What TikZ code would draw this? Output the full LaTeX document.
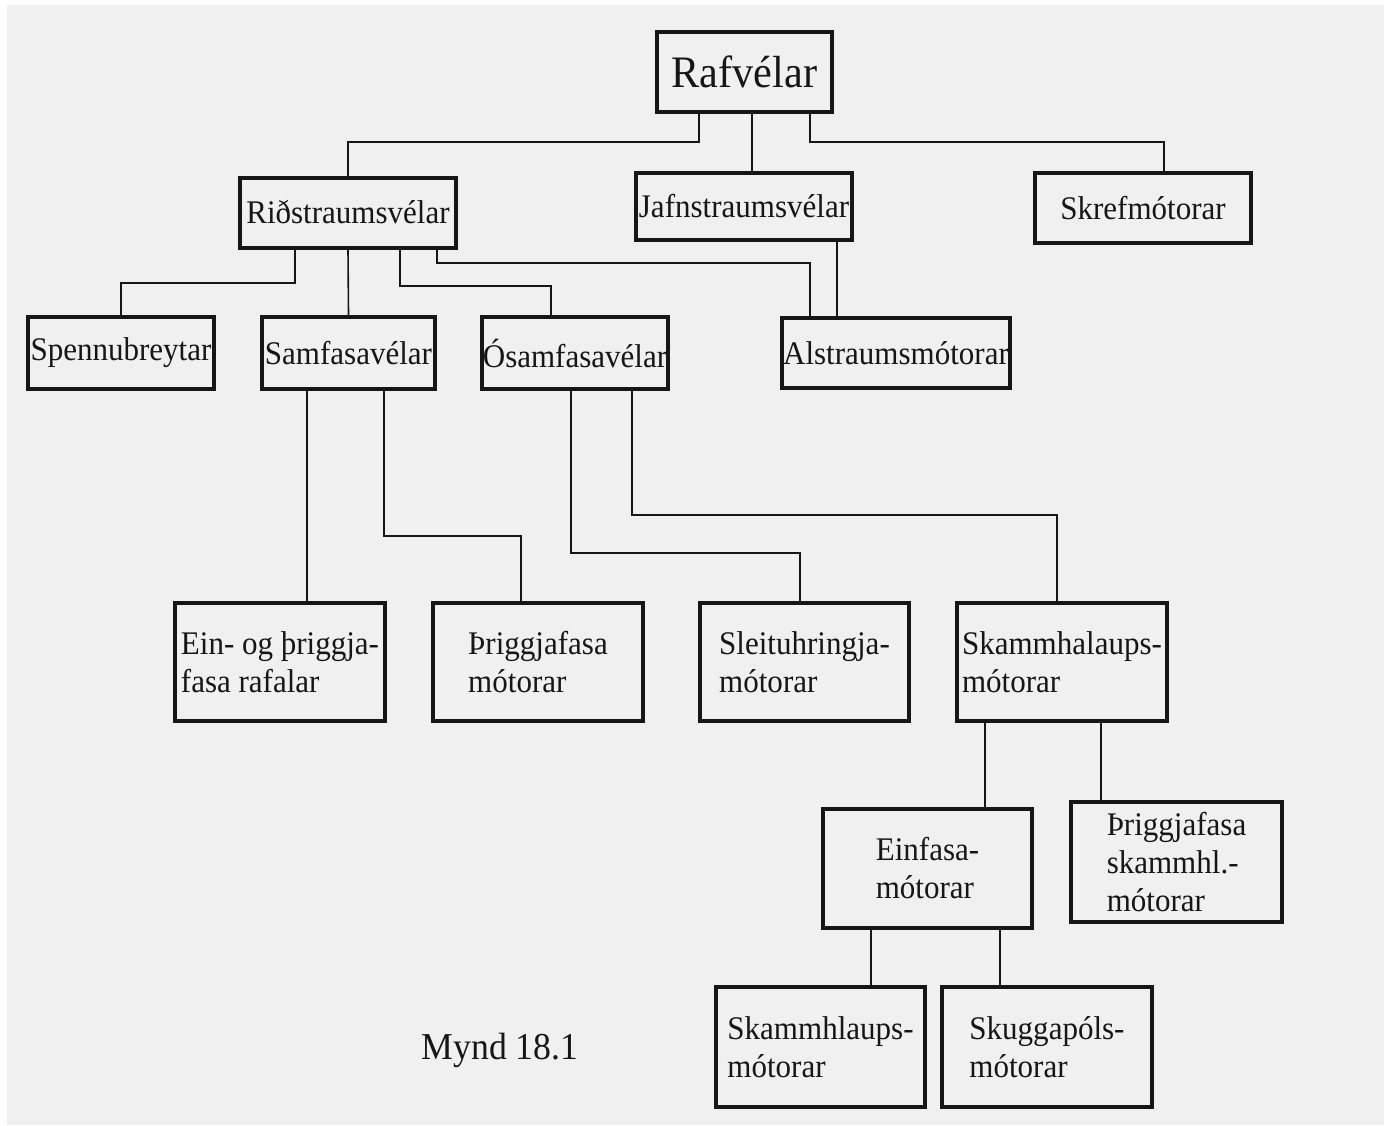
\documentclass[tikz,border=0pt]{standalone}
\usepackage{fontspec}
\setmainfont{Liberation Serif}
\newfontfamily\boxfont[FakeStretch=0.94]{Liberation Serif}
\definecolor{ink}{RGB}{22,22,22}
\definecolor{paper}{RGB}{240,240,240}

\tikzset{
  box/.style={draw=ink, text=ink, line width=2pt, inner sep=0pt, align=left,
    font=\boxfont\fontsize{16.5}{19}\selectfont},
  lead/.style={draw=ink, line width=0.8pt},
}

\begin{document}
\begin{tikzpicture}[x=0.5pt,y=-0.5pt]
\useasboundingbox (0,0) rectangle (1384,1125);
\fill[white] (0,0) rectangle (1384,1125);
\fill[paper] (7,5) rectangle (1384,1125);

\node[box, minimum width=87.5pt, minimum height=40pt,
  font=\boxfont\fontsize{22.5}{26}\selectfont] (raf) at (744.5,72) {Rafvélar};
\node[box, minimum width=108pt, minimum height=35pt] (rid) at (348,212.5) {Riðstraumsvélar};
\node[box, minimum width=108pt, minimum height=33.5pt] (jafn) at (744,206.5) {Jafnstraumsvélar};
\node[box, minimum width=108pt, minimum height=35pt] (skref) at (1143,208) {Skrefmótorar};
\node[box, minimum width=93pt, minimum height=36pt] (spenn) at (121,353) {Spennubreytar};
\node[box, minimum width=86.5pt, minimum height=36pt] (samf) at (348.5,353) {Samfasavélar};
\node[box, minimum width=93pt, minimum height=36pt] (osamf) at (575,353) {Ósamfasavélar};
\node[box, minimum width=114pt, minimum height=35pt] (alstr) at (896,353) {Alstraumsmótorar};
\node[box, minimum width=105pt, minimum height=59pt] (ein) at (280,662) {Ein- og þriggja-\\fasa rafalar};
\node[box, minimum width=105pt, minimum height=59pt] (thrig) at (538,662) {Þriggjafasa\\mótorar};
\node[box, minimum width=104.5pt, minimum height=59pt] (sleit) at (804.5,662) {Sleituhringja-\\mótorar};
\node[box, minimum width=105pt, minimum height=59pt] (skamm) at (1062,662) {Skammhalaups-\\mótorar};
\node[box, minimum width=104.5pt, minimum height=59.5pt] (einf) at (927.5,868.5) {Einfasa-\\mótorar};
\node[box, minimum width=105.5pt, minimum height=60pt] (thrsk) at (1176.5,862) {Þriggjafasa\\skammhl.-\\mótorar};
\node[box, minimum width=104.5pt, minimum height=60pt] (skhl) at (820.5,1047) {Skammhlaups-\\mótorar};
\node[box, minimum width=105pt, minimum height=60pt] (skug) at (1047,1047) {Skuggapóls-\\mótorar};
\node[text=ink, font=\boxfont\fontsize{19}{22}\selectfont] (cap) at (500,1050) {Mynd 18.1};

\draw[lead] (raf.south -| 699,0) -- (699,142) -| (rid.north);
\draw[lead] (raf.south -| 752,0) -- (jafn.north -| 752,0);
\draw[lead] (raf.south -| 810,0) |- (1164,142) -- (skref.north -| 1164,0);
\draw[lead] (rid.south -| 295,0) -- (295,283) -| (spenn.north);
\draw[lead] (rid.south) -- (samf.north);
\draw[lead] (rid.south -| 400,0) -- (400,286) -| (osamf.north -| 551,0);
\draw[lead] (rid.south -| 437,0) -- (437,263) -| (alstr.north -| 810,0);
\draw[lead] (jafn.south -| 837,0) -- (alstr.north -| 837,0);
\draw[lead] (samf.south -| 307,0) -- (ein.north -| 307,0);
\draw[lead] (samf.south -| 384,0) -- (384,536) -| (thrig.north -| 521,0);
\draw[lead] (osamf.south -| 571,0) -- (571,553) -| (sleit.north -| 800,0);
\draw[lead] (osamf.south -| 632,0) -- (632,515) -| (skamm.north -| 1057,0);
\draw[lead] (skamm.south -| 985,0) -- (einf.north -| 985,0);
\draw[lead] (skamm.south -| 1101,0) -- (thrsk.north -| 1101,0);
\draw[lead] (einf.south -| 871,0) -- (skhl.north -| 871,0);
\draw[lead] (einf.south -| 1000,0) -- (skug.north -| 1000,0);
\end{tikzpicture}
\end{document}
